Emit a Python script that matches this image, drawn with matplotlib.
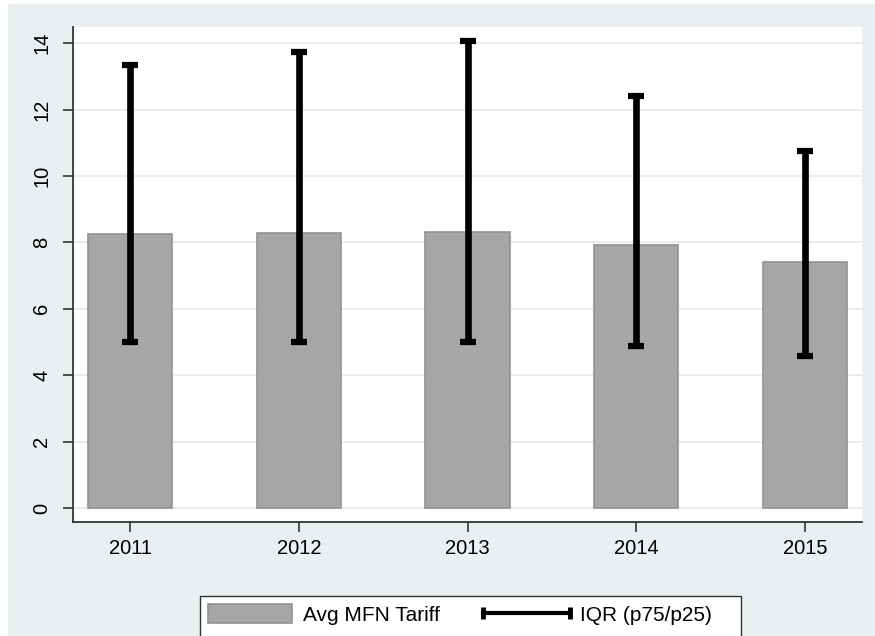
import matplotlib
matplotlib.use("Agg")
import matplotlib.pyplot as plt
from matplotlib.patches import Rectangle, Patch
from matplotlib.lines import Line2D
from matplotlib.legend_handler import HandlerLine2D
import numpy as np

plt.rcParams['font.family'] = ['Liberation Sans', 'DejaVu Sans']

years = ['2011', '2012', '2013', '2014', '2015']
avg_mfn = [8.25, 8.29, 8.33, 7.92, 7.40]
p25 = [5.00, 5.00, 5.00, 4.88, 4.58]
p75 = [13.35, 13.75, 14.07, 12.42, 10.77]
yticks = [0, 2, 4, 6, 8, 10, 12, 14]

W, H = 875, 636
fig = plt.figure(figsize=(W / 100, H / 100), dpi=100, facecolor='white')
bg = '#EAEFF2'
fig.patches.append(Rectangle((8 / W, 0), 1 - 8 / W, 1 - 4 / H, transform=fig.transFigure,
                             facecolor=bg, edgecolor='none', zorder=-10))
# legend frame
fig.patches.append(Rectangle((200 / W, -10 / H), (741 - 200) / W, (636 + 10 - 596) / H,
                             transform=fig.transFigure, facecolor='white',
                             edgecolor='#333333', linewidth=1.0, zorder=-5))

ax = fig.add_axes([73 / W, 1 - 522 / H, (862 - 73) / W, (522 - 27) / H])
ax.set_facecolor('white')

x = np.arange(len(years))
ax.bar(x, avg_mfn, width=0.5, color='#A6A6A6', edgecolor='#939393', linewidth=1.2, zorder=2)
p25a = np.array(p25)
p75a = np.array(p75)
ax.errorbar(x, p25a, yerr=[np.zeros_like(p25a), p75a - p25a], fmt='none', ecolor='black',
            elinewidth=4.8, capsize=5.5, capthick=4.5, zorder=3)

ax.set_xlim(-0.338, 4.338)
ax.set_ylim(-0.42, 14.49)
ax.set_xticks(x)
ax.set_xticklabels(years)
ax.set_yticks(yticks)
ax.set_yticklabels([str(v) for v in yticks], rotation=90, va='center')
ax.tick_params(axis='both', labelsize=14.5, length=7, width=1.2, color='#333333', labelcolor='black')
ax.tick_params(axis='x', pad=5.5)
ax.tick_params(axis='y', pad=8.5)
ax.grid(axis='y', color='#E6ECEF', linewidth=1.5, zorder=0)
ax.set_axisbelow(True)
for s in ['top', 'right']:
    ax.spines[s].set_visible(False)
for s in ['left', 'bottom']:
    ax.spines[s].set_color('#333333')
    ax.spines[s].set_linewidth(1.3)

h1 = Patch(facecolor='#A6A6A6', edgecolor='#939393', linewidth=1.2)
h2 = Line2D([], [], color='black', linewidth=3, marker='|', markersize=8, markeredgewidth=3.5)
leg = fig.legend([h1, h2], ['Avg MFN Tariff', 'IQR (p75/p25)'], loc='upper left',
                 bbox_to_anchor=(200 / W, 1 - 596 / H), ncol=2, fontsize=15,
                 numpoints=2, handlelength=4.0, handleheight=1.0, handletextpad=0.55,
                 columnspacing=2.15, borderpad=0.4, frameon=False, borderaxespad=0,
                 handler_map={h2: HandlerLine2D(marker_pad=-0.1)})

fig.savefig('out.png', dpi=100, facecolor='white')
